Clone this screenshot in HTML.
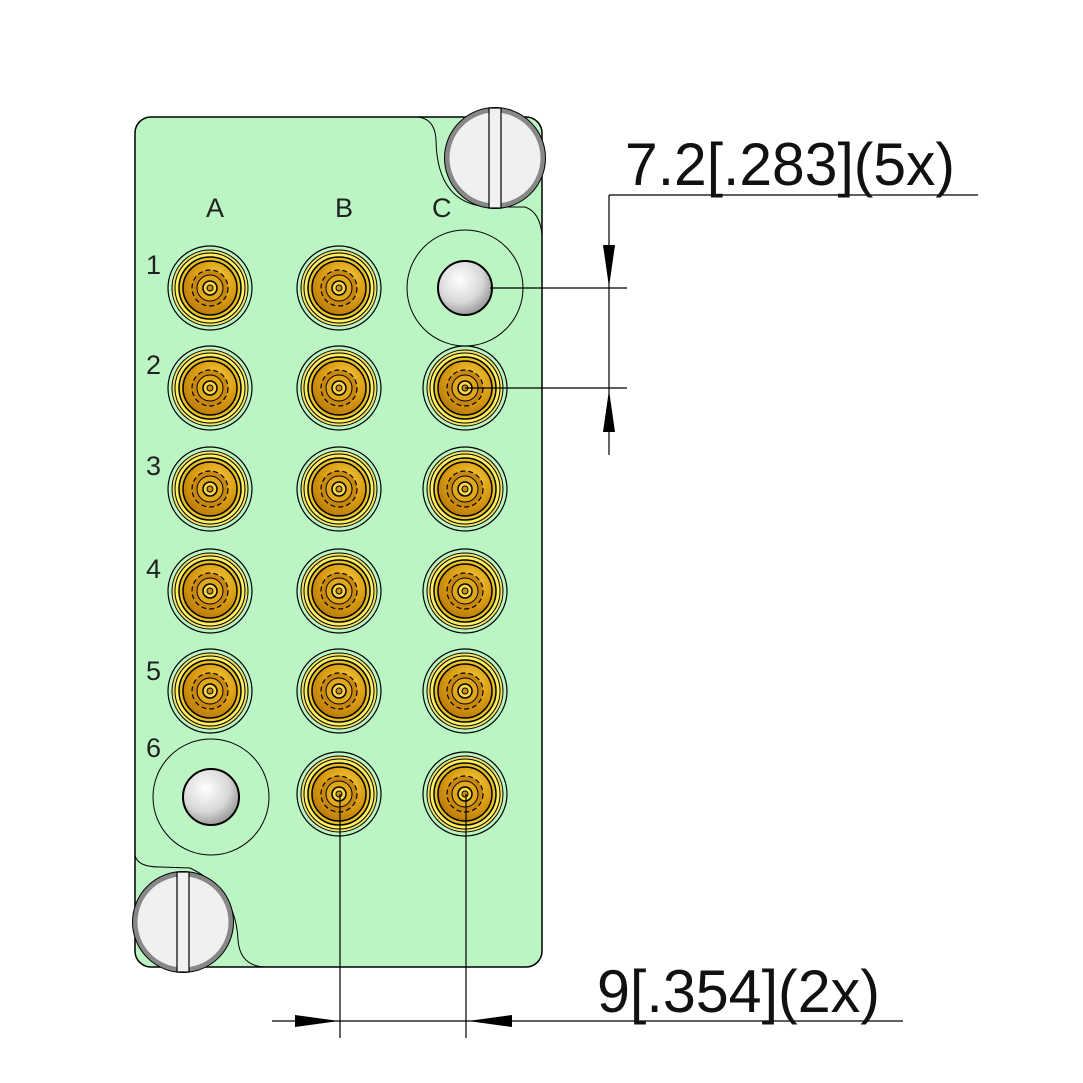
<!DOCTYPE html>
<html><head><meta charset="utf-8"><style>html,body{margin:0;padding:0;background:#fff}svg{display:block}</style></head>
<body>
<svg width="1083" height="1083" viewBox="0 0 1083 1083" xmlns="http://www.w3.org/2000/svg">
<defs>
<radialGradient id="gold" cx="0.6" cy="0.35" r="0.7">
<stop offset="0" stop-color="#f8d040"/><stop offset="0.6" stop-color="#d89a10"/><stop offset="1" stop-color="#b87808"/>
</radialGradient>
<radialGradient id="ball" cx="0.4" cy="0.35" r="0.7">
<stop offset="0" stop-color="#ffffff"/><stop offset="0.6" stop-color="#d8d8d8"/><stop offset="1" stop-color="#909090"/>
</radialGradient>
<g id="con">
<circle r="42" fill="none" stroke="#000" stroke-width="1.2"/>
<circle r="38" fill="#f2e26a" stroke="#000" stroke-width="1"/>
<circle r="35" fill="#fbef60" stroke="#000" stroke-width="1"/>
<circle r="31" fill="#e8c020" stroke="#000" stroke-width="1.5"/>
<circle r="27" fill="url(#gold)" stroke="#000" stroke-width="1.5"/>
<circle r="18" fill="#c88810" stroke="#000" stroke-width="1.2" stroke-dasharray="5 3"/>
<circle r="13" fill="#e0a818" stroke="#000" stroke-width="1"/>
<circle r="7" fill="#f8d848" stroke="#000" stroke-width="1.5"/>
<circle r="3" fill="#d09010" stroke="#000" stroke-width="1"/>
</g>
</defs>
<!-- plate -->
<rect x="135" y="117" width="407" height="850" rx="16" fill="#bbf5c3" stroke="#000" stroke-width="1.5"/>
<path d="M418,117 Q435,119 436,140 Q437,205 490,207 L525,207 Q540,212 542,235" fill="none" stroke="#000" stroke-width="1"/>
<path d="M135,855 Q137,867 160,867 L190,868 Q236,890 238,940 Q240,966 265,967" fill="none" stroke="#000" stroke-width="1"/>
<!-- screws -->
<g transform="translate(495,158)">
<circle r="48" fill="#f0f0f0" stroke="#888" stroke-width="5"/><circle r="50.5" fill="none" stroke="#000" stroke-width="1"/>
<rect x="-6" y="-50" width="12" height="100" fill="#f0f0f0" stroke="#000" stroke-width="1.2"/>
</g>
<g transform="translate(183,922)">
<circle r="48" fill="#f0f0f0" stroke="#888" stroke-width="5"/><circle r="50.5" fill="none" stroke="#000" stroke-width="1"/>
<rect x="-6" y="-50" width="12" height="100" fill="#f0f0f0" stroke="#000" stroke-width="1.2"/>
</g>
<!-- posts -->
<circle cx="465" cy="288" r="58" fill="none" stroke="#000" stroke-width="1"/>
<circle cx="465" cy="288" r="27" fill="url(#ball)" stroke="#000" stroke-width="2"/>
<circle cx="211" cy="797" r="58" fill="none" stroke="#000" stroke-width="1"/>
<circle cx="211" cy="797" r="28" fill="url(#ball)" stroke="#000" stroke-width="2"/>
<!-- connectors -->
<use href="#con" x="210" y="288"/><use href="#con" x="339" y="288"/>
<use href="#con" x="210" y="388"/><use href="#con" x="339" y="388"/><use href="#con" x="465" y="388"/>
<use href="#con" x="210" y="489"/><use href="#con" x="339" y="489"/><use href="#con" x="465" y="489"/>
<use href="#con" x="210" y="591"/><use href="#con" x="339" y="591"/><use href="#con" x="465" y="591"/>
<use href="#con" x="210" y="691"/><use href="#con" x="339" y="691"/><use href="#con" x="465" y="691"/>
<use href="#con" x="339" y="794"/><use href="#con" x="465" y="794"/>
<!-- labels -->
<g font-family="Liberation Sans, sans-serif" font-size="27" fill="#222">
<text x="206" y="217">A</text><text x="335" y="217">B</text><text x="432" y="217">C</text>
<text x="146" y="274">1</text><text x="146" y="374">2</text><text x="146" y="475">3</text>
<text x="146" y="578">4</text><text x="146" y="680">5</text><text x="146" y="757">6</text>
</g>
<!-- dimensions -->
<g stroke="#000" stroke-width="1.2" fill="none">
<line x1="609" y1="195" x2="978" y2="195"/>
<line x1="609" y1="195" x2="609" y2="455"/>
<line x1="490" y1="288" x2="627" y2="288"/>
<line x1="465" y1="388" x2="627" y2="388"/>
<line x1="272" y1="1021" x2="903" y2="1021"/>
<line x1="340" y1="794" x2="340" y2="1038"/>
<line x1="466" y1="794" x2="466" y2="1038"/>
</g>
<polygon points="603,245 615,245 609,287" fill="#000"/>
<polygon points="603,432 615,432 609,390" fill="#000"/>
<polygon points="295,1015 295,1027 339,1021" fill="#000"/>
<polygon points="512,1015 512,1027 468,1021" fill="#000"/>
<g font-family="Liberation Sans, sans-serif" fill="#111">
<text x="625" y="185" font-size="60" textLength="330" lengthAdjust="spacingAndGlyphs">7.2[.283](5x)</text>
<text x="597" y="1012" font-size="60" textLength="283" lengthAdjust="spacingAndGlyphs">9[.354](2x)</text>
</g>
</svg>
</body></html>
